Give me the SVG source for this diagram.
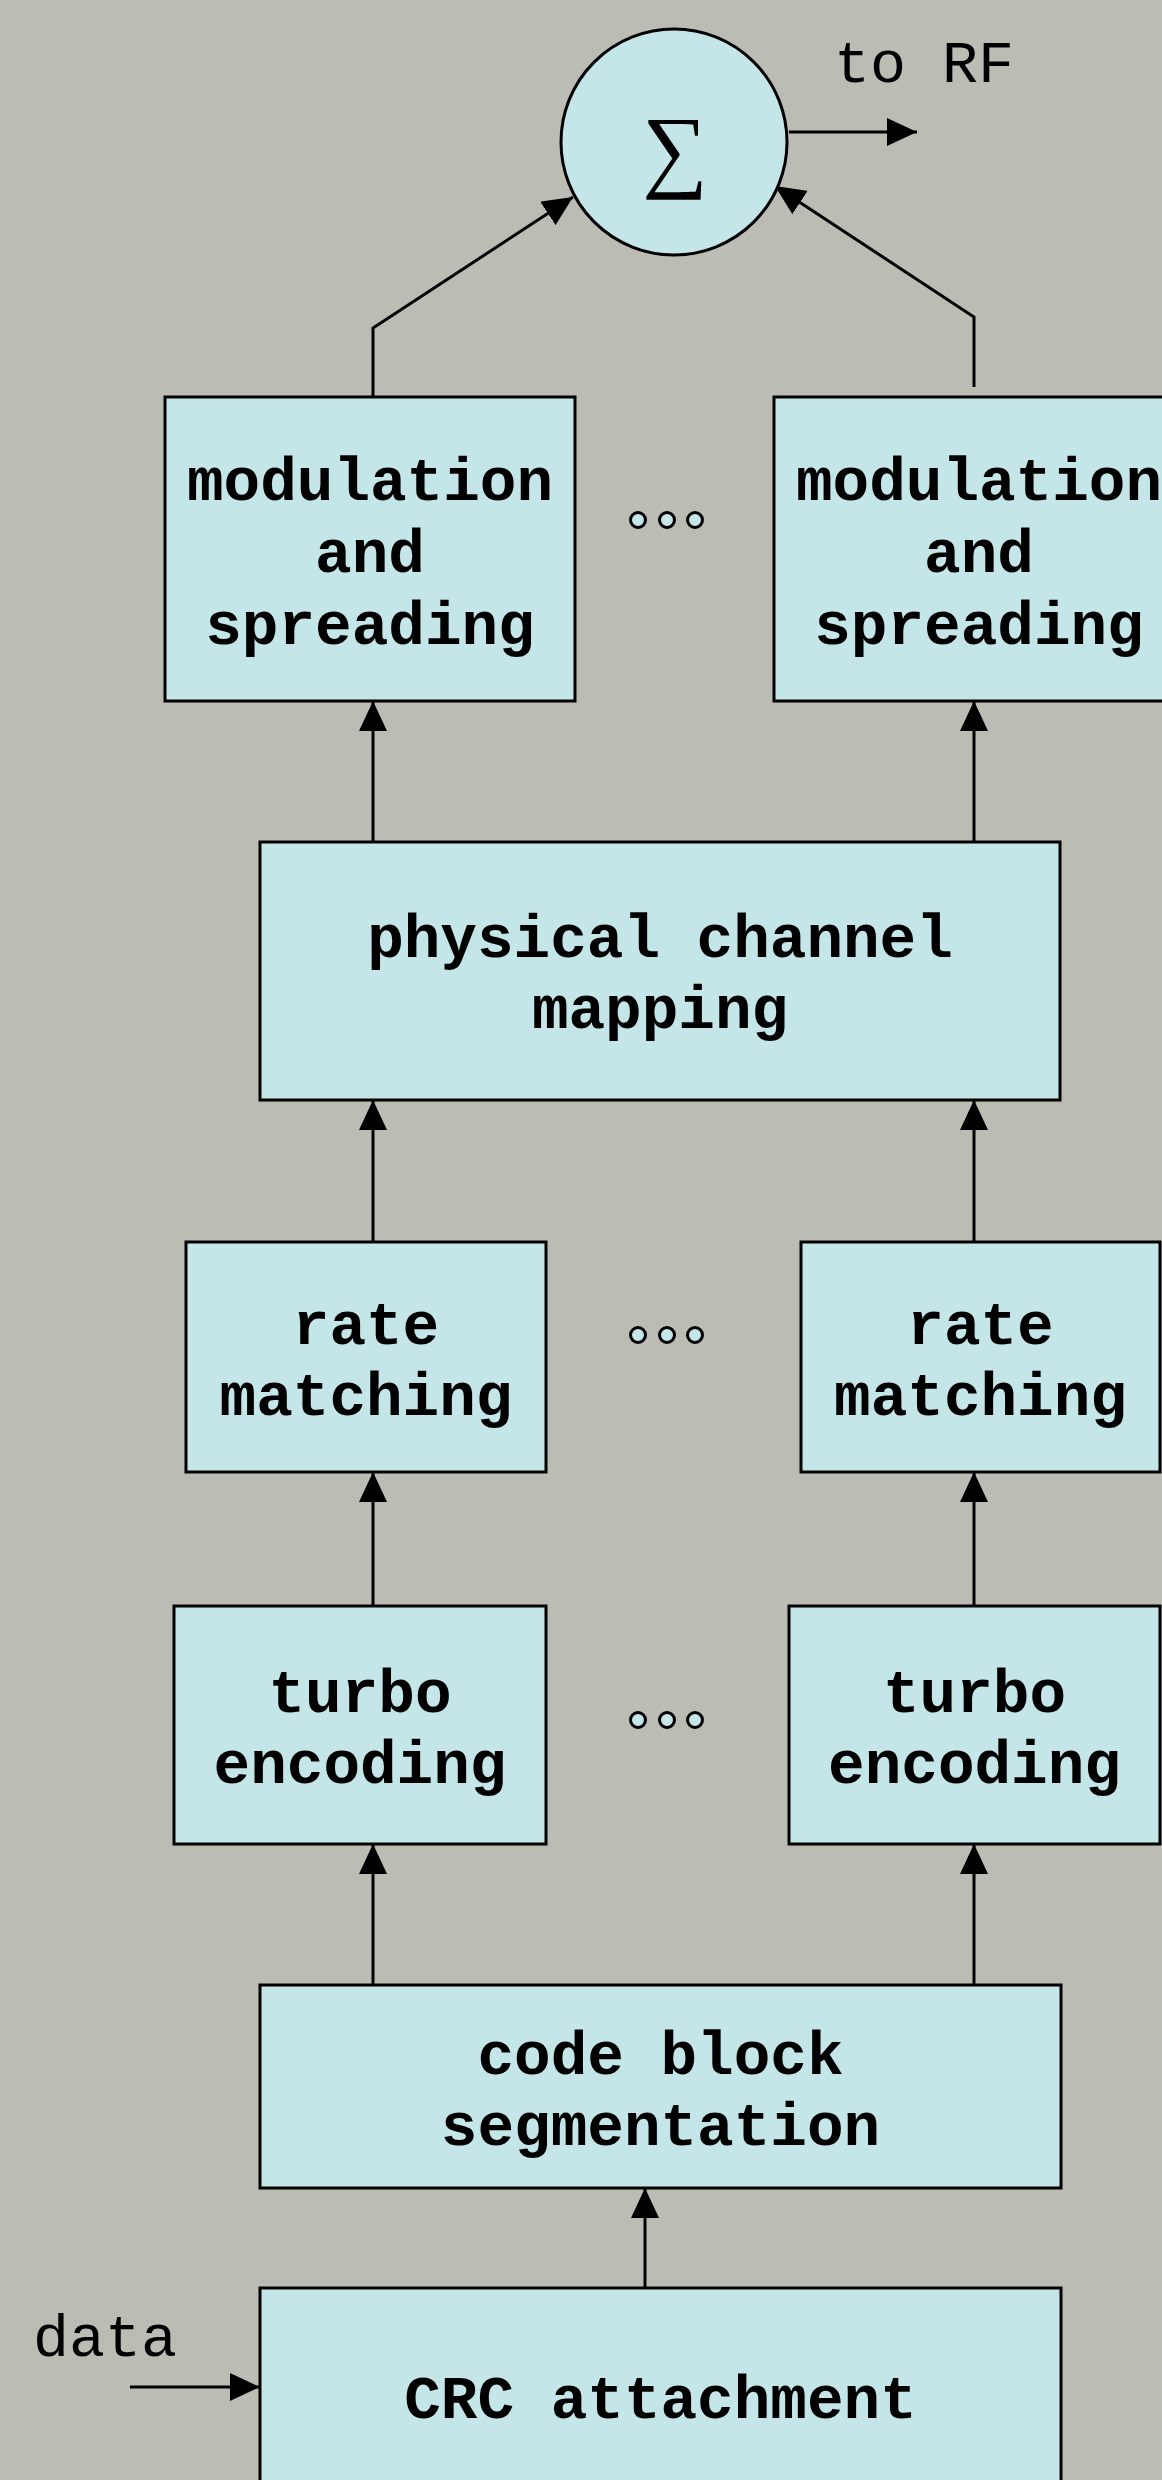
<svg xmlns="http://www.w3.org/2000/svg" width="1162" height="2480" viewBox="0 0 1162 2480">
<style>
.box{fill:#c4e6e8;stroke:#000;stroke-width:3}
.lbl{font-family:"Liberation Mono","Courier New",monospace;font-weight:bold;font-size:61px;text-anchor:middle;fill:#000}
.thin{font-family:"Liberation Mono","Courier New",monospace;font-size:60px;fill:#000}
.conn{fill:none;stroke:#000;stroke-width:3;marker-end:url(#arr)}
.dot{fill:#c4e6e8;stroke:#000;stroke-width:3}
</style>
<defs>
<marker id="arr" markerUnits="userSpaceOnUse" markerWidth="30" markerHeight="28" viewBox="0 0 30 28" refX="30" refY="14" orient="auto">
<path d="M0,0 L30,14 L0,28 Z" fill="#000"/>
</marker>
</defs>
<rect width="1162" height="2480" fill="#bbbdb5"/>

<g id="connectors">
<polyline class="conn" points="373,397 373,328 573,197"/>
<polyline class="conn" points="974,387 974,317 775,186"/>
<line class="conn" x1="789" y1="132" x2="917" y2="132"/>
<line class="conn" x1="373" y1="842" x2="373" y2="701"/>
<line class="conn" x1="974" y1="842" x2="974" y2="701"/>
<line class="conn" x1="373" y1="1242" x2="373" y2="1100"/>
<line class="conn" x1="974" y1="1242" x2="974" y2="1100"/>
<line class="conn" x1="373" y1="1606" x2="373" y2="1472"/>
<line class="conn" x1="974" y1="1606" x2="974" y2="1472"/>
<line class="conn" x1="373" y1="1985" x2="373" y2="1844"/>
<line class="conn" x1="974" y1="1985" x2="974" y2="1844"/>
<line class="conn" x1="645" y1="2288" x2="645" y2="2188"/>
<line class="conn" x1="130" y1="2387" x2="260" y2="2387"/>
</g>

<g id="sum">
<circle cx="674" cy="142" r="113" fill="#c4e6e8" stroke="#000" stroke-width="3"/>
<text x="675" y="180" font-family="'Liberation Serif','DejaVu Serif',serif" font-size="92" text-anchor="middle">∑</text>
</g>
<text id="to-rf" class="thin" x="834" y="82">to RF</text>

<g id="mod1">
<rect class="box" x="165" y="397" width="410" height="304"/>
<text class="lbl" x="370" y="500">modulation</text>
<text class="lbl" x="370" y="572">and</text>
<text class="lbl" x="370" y="644">spreading</text>
</g>
<g id="mod2">
<rect class="box" x="774" y="397" width="410" height="304"/>
<text class="lbl" x="979" y="500">modulation</text>
<text class="lbl" x="979" y="572">and</text>
<text class="lbl" x="979" y="644">spreading</text>
</g>
<g id="dots-mod">
<circle class="dot" cx="638" cy="520" r="7.5"/>
<circle class="dot" cx="667" cy="520" r="7.5"/>
<circle class="dot" cx="695" cy="520" r="7.5"/>
</g>

<g id="phys">
<rect class="box" x="260" y="842" width="800" height="258"/>
<text class="lbl" x="660" y="957">physical channel</text>
<text class="lbl" x="660" y="1028">mapping</text>
</g>

<g id="rate1">
<rect class="box" x="186" y="1242" width="360" height="230"/>
<text class="lbl" x="366" y="1344">rate</text>
<text class="lbl" x="366" y="1415">matching</text>
</g>
<g id="rate2">
<rect class="box" x="801" y="1242" width="359" height="230"/>
<text class="lbl" x="980.5" y="1344">rate</text>
<text class="lbl" x="980.5" y="1415">matching</text>
</g>
<g id="dots-rate">
<circle class="dot" cx="638" cy="1335" r="7.5"/>
<circle class="dot" cx="667" cy="1335" r="7.5"/>
<circle class="dot" cx="695" cy="1335" r="7.5"/>
</g>

<g id="turbo1">
<rect class="box" x="174" y="1606" width="372" height="238"/>
<text class="lbl" x="360" y="1712">turbo</text>
<text class="lbl" x="360" y="1783">encoding</text>
</g>
<g id="turbo2">
<rect class="box" x="789" y="1606" width="371" height="238"/>
<text class="lbl" x="974.5" y="1712">turbo</text>
<text class="lbl" x="974.5" y="1783">encoding</text>
</g>
<g id="dots-turbo">
<circle class="dot" cx="638" cy="1720" r="7.5"/>
<circle class="dot" cx="667" cy="1720" r="7.5"/>
<circle class="dot" cx="695" cy="1720" r="7.5"/>
</g>

<g id="codeblock">
<rect class="box" x="260" y="1985" width="801" height="203"/>
<text class="lbl" x="660.5" y="2074">code block</text>
<text class="lbl" x="660.5" y="2145">segmentation</text>
</g>

<g id="crc">
<rect class="box" x="260" y="2288" width="801" height="260"/>
<text class="lbl" x="660.5" y="2418">CRC attachment</text>
</g>
<text id="data" class="thin" x="33" y="2356">data</text>
</svg>
